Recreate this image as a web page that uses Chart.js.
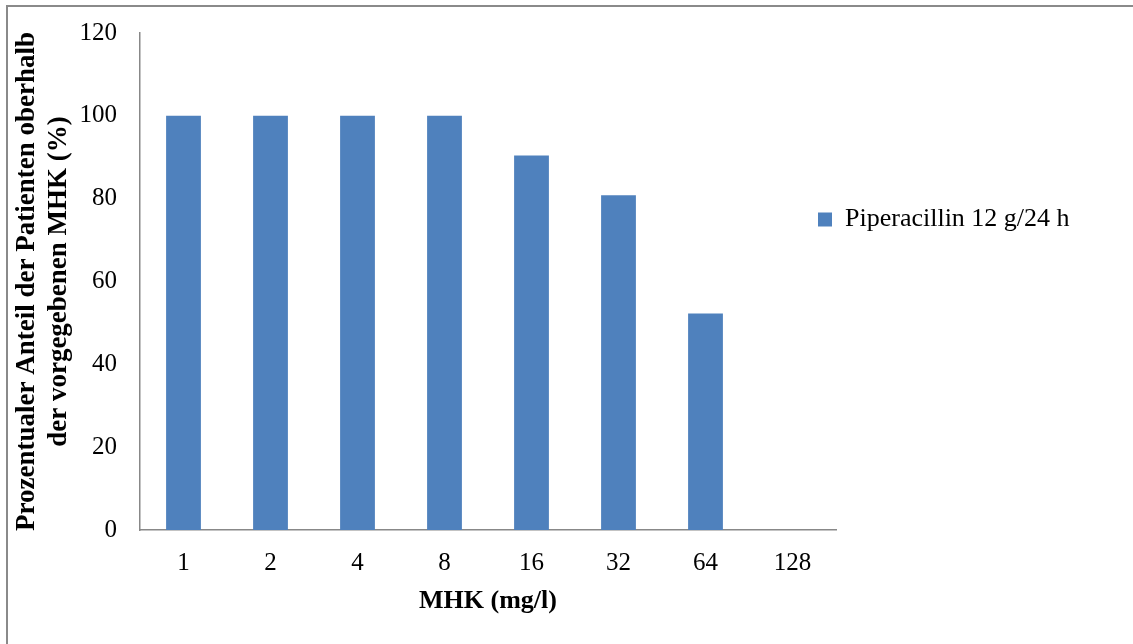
<!DOCTYPE html>
<html>
<head>
<meta charset="utf-8">
<script src="https://cdn.jsdelivr.net/npm/chart.js@4"></script>
<style>
  body { margin: 0; background: #fff; }
  #box { position: absolute; left: 0; top: 0; width: 1133px; height: 644px; }
  #frame { position: absolute; left: 6px; top: 5px; right: 0; bottom: 0;
           border-top: 2px solid #8a8a8a; border-left: 2px solid #8a8a8a; pointer-events: none; }
</style>
</head>
<body>
<div id="box"><canvas id="myChart"></canvas></div>
<div id="frame"></div>
<script>
// data
const categories = ['1', '2', '4', '8', '16', '32', '64', '128'];
const piperacillin = [100, 100, 100, 100, 90.4, 80.8, 52.3, 0];
const seriesLabel = 'Piperacillin 12 g/24 h';
const yTicks = [0, 20, 40, 60, 80, 100, 120];

const serif = 'Liberation Serif';
const axisColor = '#888888';

// the legend sits a bit left of the plot's right end, like in the original
const legendPlace = {
    id: 'legendPlace',
    afterLayout(chart) {
        const lg = chart.legend;
        lg.left = 810;
        lg.right = chart.width;
        lg.width = lg.right - lg.left;
    }
};

// setup
const data = {
    labels: categories,
    datasets: [{
        label: seriesLabel,
        data: piperacillin,
        backgroundColor: '#4f81bd',
        borderWidth: 0,
        categoryPercentage: 0.8,
        barPercentage: 0.5
    }]
};

// config
const config = {
    type: 'bar',
    data,
    options: {
        responsive: true,
        maintainAspectRatio: false,
        animation: false,
        layout: {
            padding: { top: 33, right: 197, bottom: 0, left: 0 }
        },
        scales: {
            x: {
                // grid hidden, tick length only used as a gap under the axis
                grid: { display: false, drawTicks: true, tickLength: 15 },
                border: { display: true, color: axisColor, width: 1.5 },
                ticks: {
                    color: '#000',
                    font: { family: serif, size: 25 },
                    padding: 3,
                    maxRotation: 0
                },
                title: {
                    display: true,
                    text: 'MHK (mg/l)',
                    color: '#000',
                    font: { family: serif, size: 26, weight: 'bold', lineHeight: 1.2 },
                    padding: { top: 0, bottom: 27 }
                },
                afterFit: function(scale) { scale.height = 114; }
            },
            y: {
                min: yTicks[0],
                max: yTicks[yTicks.length - 1],
                grid: { display: false, drawTicks: true, tickLength: 20 },
                border: { display: true, color: axisColor, width: 1.5 },
                ticks: {
                    stepSize: yTicks[1] - yTicks[0],
                    color: '#000',
                    font: { family: serif, size: 25 },
                    padding: 3
                },
                title: {
                    display: true,
                    text: ['Prozentualer Anteil der Patienten oberhalb', 'der vorgegebenen MHK (%)'],
                    color: '#000',
                    font: { family: serif, size: 27, weight: 'bold', lineHeight: 1.15 },
                    padding: { top: 12, bottom: 0 }
                },
                afterFit: function(scale) { scale.width = 140; }
            }
        },
        plugins: {
            legend: {
                position: 'right',
                align: 'start',
                maxWidth: 100,
                title: {
                    display: true,
                    text: '',
                    font: { size: 10, lineHeight: 1 },
                    padding: { top: 0, bottom: 155.5 }
                },
                labels: {
                    color: '#000',
                    font: { family: serif, size: 26 },
                    boxWidth: 14,
                    boxHeight: 14,
                    padding: 8
                }
            },
            tooltip: { enabled: false }
        }
    },
    plugins: [legendPlace]
};

// avvio chart
const myChart = new Chart(document.getElementById('myChart'), config);
</script>
</body>
</html>
